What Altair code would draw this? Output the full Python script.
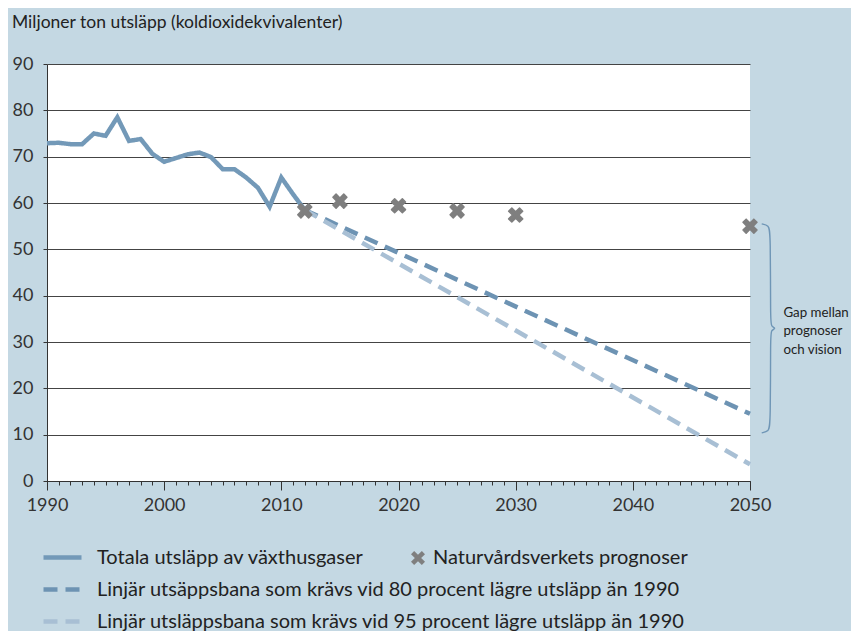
import altair as alt
import pandas as pd

# ---------------- data ----------------
hist_years = [1990, 1991, 1992, 1993, 1994, 1995, 1996, 1997, 1998, 1999, 2000,
              2001, 2002, 2003, 2004, 2005, 2006, 2007, 2008, 2009, 2010, 2011, 2012]
hist_values = [72.9, 73.0, 72.7, 72.7, 75.0, 74.5, 78.5, 73.4, 73.8, 70.6, 68.9,
               69.7, 70.5, 70.9, 69.9, 67.3, 67.3, 65.5, 63.3, 59.2, 65.5, 61.9, 58.5]

path_years = [2012, 2050]
path80_values = [58.5, 14.5]
path95_values = [58.5, 3.6]

prog_years = [2012, 2015, 2020, 2025, 2030, 2050]
prog_values = [58.3, 60.4, 59.4, 58.3, 57.4, 55.0]

brace_top = 55.5
brace_bottom = 10.4

S_TOT = "Totala utsläpp av växthusgaser"
S_80 = "Linjär utsäppsbana som krävs vid 80 procent lägre utsläpp än 1990"
S_95 = "Linjär utsläppsbana som krävs vid 95 procent lägre utsläpp än 1990"
S_PROG = "Naturvårdsverkets prognoser"
TITLE = "Miljoner ton utsläpp (koldioxidekvivalenter)"
GAP_TEXT = "Gap mellan\nprognoser\noch vision"

major_years = [1990, 2000, 2010, 2020, 2030, 2040, 2050]
minor_years = list(range(1990, 2051))
y_ticks = [0, 10, 20, 30, 40, 50, 60, 70, 80, 90]

# ---------------- styles ----------------
BG = "#C4D8E3"
C_TOT = "#7399B8"
C_80 = "#6D93B3"
C_95 = "#A8BFD4"
C_PROG = "#7F7F7F"
C_BRACE = "#6F96B6"
TXT = "#222222"
FONT = "Lato"
X_PATH = ("M-1,-0.55L-0.55,-1L0,-0.45L0.55,-1L1,-0.55L0.45,0L1,0.55L0.55,1"
          "L0,0.45L-0.55,1L-1,0.55L-0.45,0Z")

lines_df = pd.concat([
    pd.DataFrame({"year": hist_years, "value": hist_values, "series": S_TOT}),
    pd.DataFrame({"year": path_years, "value": path80_values, "series": S_80}),
    pd.DataFrame({"year": path_years, "value": path95_values, "series": S_95}),
], ignore_index=True)

prog_df = pd.DataFrame({"year": prog_years, "value": prog_values, "series": S_PROG})

mid = (brace_top + brace_bottom) / 2
brace_df = pd.DataFrame({
    "year": [2051.0, 2051.6, 2051.75, 2051.75, 2051.8, 2052.25, 2051.8, 2051.75, 2051.75, 2051.6, 2051.0],
    "value": [brace_top, brace_top - 0.3, brace_top - 1.8, mid + 1.6, mid + 0.4, mid,
              mid - 0.4, mid - 1.6, brace_bottom + 1.8, brace_bottom + 0.3, brace_bottom],
    "idx": list(range(11)),
})

gap_df = pd.DataFrame({"year": [2052.85], "value": [mid], "t": [GAP_TEXT]})
title_df = pd.DataFrame({"t": [TITLE]})

xscale = alt.Scale(domain=[1990, 2050], nice=False, zero=False)
yscale = alt.Scale(domain=[0, 90], nice=False)

line_legend = alt.Legend(
    title=None, orient="none", legendX=-6, legendY=472, direction="vertical",
    symbolType="stroke", symbolSize=1444, symbolStrokeWidth=4.5,
    labelFontSize=20, labelFont=FONT, labelColor=TXT, labelOffset=13,
    rowPadding=0, labelLimit=900, padding=0,
)

lines = alt.Chart(lines_df).mark_line(strokeWidth=4.5).encode(
    x=alt.X("year:Q", scale=xscale,
            axis=alt.Axis(values=major_years, format="d", tickSize=9, grid=False,
                          labelPadding=6, orient="bottom", title=None,
                          labelFontSize=18, labelFlush=False, domainColor="#333",
                          tickColor="#333")),
    y=alt.Y("value:Q", scale=yscale,
            axis=alt.Axis(values=y_ticks, tickSize=4, grid=True, gridColor="#444",
                          gridWidth=1, title=None, labelPadding=10, labelFontSize=18,
                          domainColor="#333", tickColor="#333")),
    color=alt.Color("series:N", scale=alt.Scale(domain=[S_TOT, S_80, S_95],
                                                 range=[C_TOT, C_80, C_95]),
                    legend=line_legend),
    strokeDash=alt.StrokeDash("series:N",
                              scale=alt.Scale(domain=[S_TOT, S_80, S_95],
                                              range=[[1, 0], [14, 8], [14, 8]]),
                              legend=line_legend),
)

points = alt.Chart(prog_df).mark_point(
    filled=True, size=196, stroke=C_PROG, strokeWidth=1.5, strokeJoin="round", opacity=1
).encode(
    x=alt.X("year:Q", scale=xscale,
            axis=alt.Axis(values=minor_years, tickSize=4, labels=False, domain=False,
                          grid=False, orient="bottom", title=None, tickColor="#333")),
    y=alt.Y("value:Q", scale=yscale),
    shape=alt.Shape("series:N", scale=alt.Scale(domain=[S_PROG], range=[X_PATH]),
                    legend=alt.Legend(title=None, orient="none", legendX=361, legendY=484,
                                      symbolSize=196, symbolFillColor=C_PROG,
                                      symbolStrokeColor=C_PROG, symbolStrokeWidth=1.5,
                                      labelFontSize=20, labelFont=FONT, labelColor=TXT,
                                      labelOffset=5, labelLimit=900, padding=0)),
    color=alt.value(C_PROG),
)

brace = alt.Chart(brace_df).mark_line(interpolate="basis", color=C_BRACE,
                                      strokeWidth=1.4).encode(
    x=alt.X("year:Q", scale=xscale, axis=None),
    y=alt.Y("value:Q", scale=yscale),
    order="idx:Q",
)

gap_text = alt.Chart(gap_df).mark_text(
    align="left", baseline="middle", lineBreak="\n", lineHeight=18.5, dy=-15.5,
    fontSize=13.3, font=FONT, color=TXT
).encode(
    x=alt.X("year:Q", scale=xscale, axis=None),
    y=alt.Y("value:Q", scale=yscale),
    text="t:N",
)

title_text = alt.Chart(title_df).mark_text(
    align="left", baseline="middle", fontSize=17.5, font=FONT, color=TXT
).encode(
    x=alt.value(-35), y=alt.value(-41), text="t:N"
)

chart = alt.layer(lines, points, brace, gap_text, title_text).resolve_axis(
    x="independent"
).properties(
    width=703, height=417,
    padding={"left": 39, "top": 56, "right": 101, "bottom": 150},
    autosize=alt.AutoSizeParams(type="none"),
).configure(
    background=BG, font=FONT
).configure_view(
    fill="white", stroke=None
).configure_axis(
    labelFont=FONT, labelColor="#333"
)

chart.save("out.html", embed_options={"renderer": "svg", "actions": False})
